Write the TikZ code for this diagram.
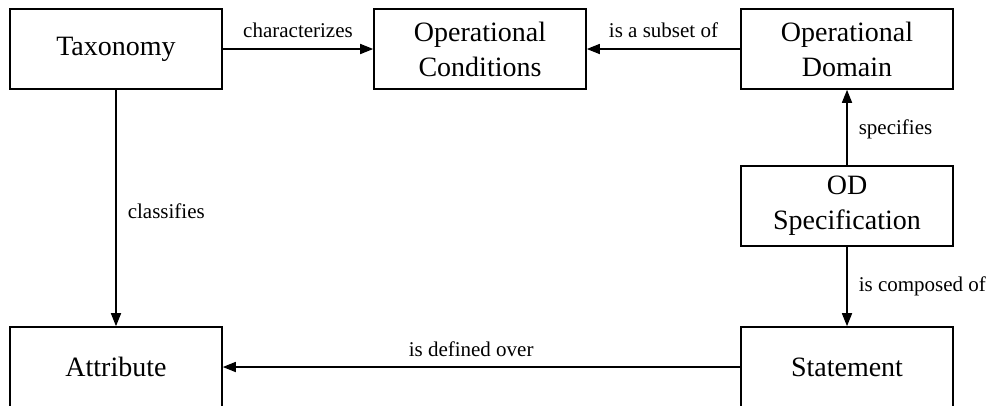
\documentclass[tikz,border=0pt]{standalone}
\usepackage{fontspec}
\setmainfont{Liberation Serif}
\usetikzlibrary{arrows.meta}

\begin{document}
\begin{tikzpicture}[x=1pt, y=-1pt,
  concept/.style={draw, line width=1.6pt, minimum width=212pt, minimum height=80pt,
    align=center, inner sep=0pt, font=\fontsize{28}{35}\selectfont},
  rel/.style={draw, line width=1.6pt, -{Triangle[length=13pt, width=10pt]}},
  lbl/.style={inner sep=0pt, font=\fontsize{21}{25}\selectfont}]
  \useasboundingbox (0,0) rectangle (990,405);

  % concepts
  \node[concept] (tax)  at (116,49)  {Taxonomy};
  \node[concept] (oc)   at (480,49)  {Operational\\Conditions};
  \node[concept] (od)   at (847,49)  {Operational\\Domain};
  \node[concept] (spec) at (847,206) {OD\\Specification};
  \node[concept] (attr) at (116,367) {Attribute};
  \node[concept] (stmt) at (847,367) {Statement};

  % relations
  \draw[rel] (tax) -- node[lbl, above=10pt] {characterizes} (oc);
  \draw[rel] (od) -- node[lbl, above=10pt] {is a subset of} (oc);
  \draw[rel] (spec) -- node[lbl, right=11pt, yshift=-2pt] {specifies} (od);
  \draw[rel] (spec) -- node[lbl, right=11pt] {is composed of} (stmt);
  \draw[rel] (tax) -- node[lbl, right=11pt, yshift=-3pt] {classifies} (attr);
  \draw[rel] (stmt) -- node[lbl, pos=0.52, above=10pt] {is defined over} (attr);
\end{tikzpicture}
\end{document}
